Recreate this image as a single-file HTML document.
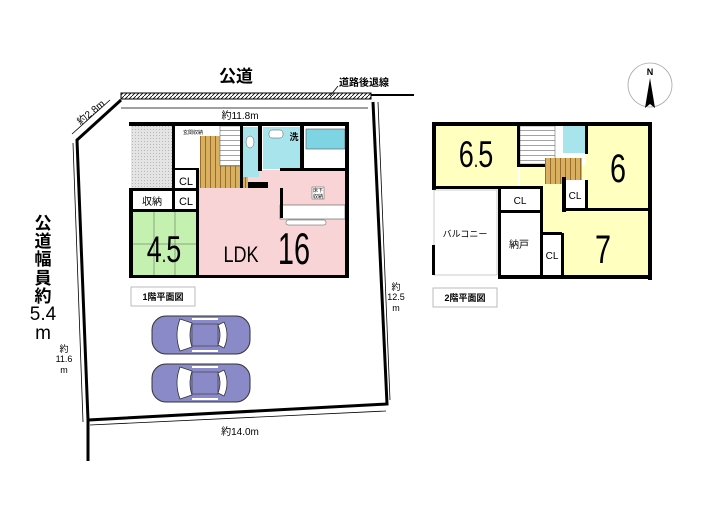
<!DOCTYPE html>
<html><head><meta charset="utf-8"><style>
html,body{margin:0;padding:0;background:#fff;}
svg{display:block;}
text{font-family:"Liberation Sans","Noto Sans CJK JP",sans-serif;}
</style></head><body>
<svg width="705" height="525" viewBox="0 0 705 525" xmlns="http://www.w3.org/2000/svg">
<defs>
<pattern id="hatch" width="4" height="4" patternUnits="userSpaceOnUse"><path d="M0,4 L4,0" stroke="#000" stroke-width="0.8"/></pattern>
<pattern id="dots" width="3" height="3" patternUnits="userSpaceOnUse"><rect width="3" height="3" fill="#e4e4e4"/><rect width="1" height="1" fill="#b8b8b8"/></pattern>
<pattern id="wood" width="5" height="10" patternUnits="userSpaceOnUse"><rect width="5" height="10" fill="#d8b060"/><line x1="0.5" y1="0" x2="0.5" y2="10" stroke="#8a5a20" stroke-width="0.8"/></pattern>
<pattern id="stair" width="10" height="5" patternUnits="userSpaceOnUse"><rect width="10" height="5" fill="#fff"/><line x1="0" y1="0.5" x2="10" y2="0.5" stroke="#666" stroke-width="0.6"/></pattern>
<g id="car">
<rect x="0" y="0" width="98" height="38" rx="14" fill="#8a8ac8" stroke="#333" stroke-width="1"/>
<path d="M28,3 Q22,19 28,35 L40,31 Q36,19 40,7 Z" fill="#fff" stroke="#333" stroke-width="0.8"/>
<path d="M72,6 Q78,19 72,32 L66,29 Q70,19 66,9 Z" fill="#fff" stroke="#333" stroke-width="0.8"/>
<rect x="40" y="8" width="26" height="22" fill="#8a8ac8" stroke="#333" stroke-width="0.6"/>
<line x1="40" y1="3" x2="66" y2="3" stroke="#fff" stroke-width="2"/>
<line x1="40" y1="35" x2="66" y2="35" stroke="#fff" stroke-width="2"/>
</g>
</defs>

<text x="236" y="82" font-size="17" font-weight="bold" text-anchor="middle">公道</text>
<text x="364" y="86" font-size="10" font-weight="bold" text-anchor="middle">道路後退線</text>
<line x1="330" y1="96" x2="338" y2="86" stroke="#000" stroke-width="0.8"/>
<rect x="121" y="93" width="250" height="6" fill="url(#hatch)" stroke="#000" stroke-width="1"/>
<line x1="371" y1="95" x2="414" y2="95" stroke="#000" stroke-width="2"/>
<polyline points="121,100 77,140 88,420 387,404 373,102" fill="none" stroke="#000" stroke-width="3"/>
<line x1="88" y1="420" x2="88" y2="461" stroke="#000" stroke-width="3"/>
<line x1="121" y1="108" x2="368" y2="108" stroke="#000" stroke-width="0.8"/>
<text x="240" y="119" font-size="10" text-anchor="middle">約11.8m</text>
<line x1="72" y1="134" x2="110" y2="100" stroke="#000" stroke-width="0.8"/>
<text x="93" y="115" font-size="10" text-anchor="middle" transform="rotate(-40 93 115)">約2.8m</text>
<line x1="73" y1="143" x2="83" y2="422" stroke="#000" stroke-width="0.8"/>
<text x="64" y="352" font-size="9" text-anchor="middle">約</text>
<text x="64" y="362" font-size="9" text-anchor="middle">11.6</text>
<text x="64" y="373" font-size="9" text-anchor="middle">m</text>
<line x1="378" y1="102" x2="390" y2="400" stroke="#000" stroke-width="0.8"/>
<text x="396" y="290" font-size="9" text-anchor="middle">約</text>
<text x="396" y="300" font-size="9" text-anchor="middle">12.5</text>
<text x="396" y="311" font-size="9" text-anchor="middle">m</text>
<line x1="90" y1="425" x2="386" y2="411" stroke="#000" stroke-width="0.8"/>
<text x="240" y="435" font-size="10" text-anchor="middle">約14.0m</text>
<g font-size="17" text-anchor="middle" font-weight="bold">
<text x="43" y="229">公</text><text x="43" y="247">道</text><text x="43" y="265">幅</text><text x="43" y="284">員</text><text x="43" y="302">約</text>
</g>
<text x="43" y="320" font-size="19" text-anchor="middle">5.4</text>
<text x="43" y="339" font-size="19" text-anchor="middle">m</text>

<circle cx="650" cy="85" r="22" fill="#fff" stroke="#aaa" stroke-width="0.8"/>
<text x="650" y="75" font-size="9" font-weight="bold" text-anchor="middle" font-family="Liberation Serif">N</text>
<path d="M650,78 L645,108 L650,104 L655,108 Z" fill="#000"/>

<!-- 1F -->
<rect x="129" y="122" width="220" height="156" fill="#fff"/>
<rect x="131" y="126" width="42" height="62" fill="url(#dots)"/>
<rect x="199" y="170" width="148" height="106" fill="#f8d4d6"/>
<rect x="133" y="212" width="63" height="64" fill="#c4f0b0"/>
<g stroke="#555" stroke-width="0.5"><line x1="154" y1="212" x2="154" y2="276"/><line x1="175" y1="212" x2="175" y2="276"/><line x1="133" y1="244" x2="196" y2="244"/></g>
<rect x="200" y="136" width="48" height="52" fill="url(#wood)"/>
<rect x="220" y="126" width="22" height="40" fill="url(#stair)" stroke="#555" stroke-width="0.5"/>
<rect x="243" y="127" width="16" height="50" fill="#a8e4ec"/>
<rect x="263" y="127" width="38" height="42" fill="#a8e4ec"/>
<rect x="306" y="129" width="39" height="20" fill="#7fd4e4" stroke="#555" stroke-width="0.6"/>
<ellipse cx="250" cy="142" rx="4" ry="6" fill="#fff" stroke="#555" stroke-width="0.5"/>
<rect x="269" y="130" width="14" height="8" rx="3" fill="#fff" stroke="#555" stroke-width="0.5"/>
<text x="294" y="140" font-size="9" text-anchor="middle" font-weight="bold">洗</text>
<text x="193" y="134" font-size="5" text-anchor="middle">玄関収納</text>
<rect x="280" y="205" width="65" height="14" fill="#fff" stroke="#555" stroke-width="0.6"/>
<rect x="286" y="220" width="40" height="5" rx="2" fill="#fff" stroke="#555" stroke-width="0.5"/>
<rect x="312" y="187" width="12" height="12" fill="#fff" stroke="#555" stroke-width="0.5"/>
<text x="318" y="192" font-size="5" text-anchor="middle">床下</text><text x="318" y="198" font-size="5" text-anchor="middle">収納</text>
<g fill="#000">
<rect x="129" y="122" width="220" height="4"/>
<rect x="129" y="188" width="4" height="90"/>
<rect x="129" y="188" width="70" height="3"/>
<rect x="345" y="122" width="4" height="156"/>
<rect x="129" y="275" width="220" height="3"/>
<rect x="172" y="126" width="3" height="83"/>
<rect x="196" y="170" width="3" height="106"/>
<rect x="133" y="209" width="66" height="3"/>
<rect x="175" y="168" width="24" height="2"/>
<rect x="258" y="126" width="4" height="45"/>
<rect x="240" y="126" width="3" height="62"/>
<rect x="300" y="126" width="4" height="42"/>
<rect x="280" y="168" width="69" height="3"/>
<rect x="280" y="188" width="3" height="30"/>
<rect x="248" y="182" width="20" height="6"/>
</g>
<rect x="175" y="172" width="21" height="15" fill="#fff"/>
<rect x="175" y="192" width="21" height="16" fill="#fff"/>
<text x="186" y="185" font-size="11" text-anchor="middle">CL</text>
<text x="186" y="205" font-size="11" text-anchor="middle">CL</text>
<text x="152" y="205" font-size="10" text-anchor="middle">収納</text>
<text transform="translate(164,262) scale(0.9,1.25)" font-size="30" text-anchor="middle">4<tspan font-size="18">.</tspan>5</text>
<text transform="translate(241,262) scale(0.95,1.15)" font-size="19" text-anchor="middle">LDK</text>
<text transform="translate(294,264) scale(0.85,1.3)" font-size="34" text-anchor="middle">16</text>
<rect x="131" y="287" width="64" height="19" fill="#fff" stroke="#bbb"/>
<text x="163" y="300" font-size="9" font-weight="bold" text-anchor="middle">1階平面図</text>

<use href="#car" x="152" y="316"/>
<use href="#car" x="152" y="364"/>

<!-- 2F -->
<rect x="434" y="124" width="84" height="64" fill="#ffffc0"/>
<rect x="586" y="124" width="64" height="85" fill="#ffffc0"/>
<rect x="520" y="165" width="70" height="50" fill="#ffffc0"/>
<rect x="543" y="212" width="108" height="64" fill="#ffffc0"/>
<rect x="520" y="126" width="35" height="38" fill="url(#stair)" stroke="#555" stroke-width="0.5"/>
<rect x="563" y="126" width="22" height="27" fill="#a8e4ec"/>
<rect x="545" y="158" width="37" height="26" fill="url(#wood)"/>
<g fill="#000">
<rect x="432" y="122" width="220" height="4"/>
<rect x="432" y="122" width="4" height="68"/>
<rect x="432" y="186" width="66" height="3"/>
<rect x="648" y="122" width="4" height="158"/>
<rect x="498" y="188" width="3" height="90"/>
<rect x="498" y="275" width="154" height="4"/>
<rect x="517" y="126" width="3" height="40"/>
<rect x="517" y="164" width="28" height="3"/>
<rect x="585" y="126" width="3" height="28"/>
<rect x="562" y="177" width="4" height="35"/>
<rect x="562" y="208" width="90" height="3"/>
<rect x="498" y="210" width="44" height="3"/>
<rect x="540" y="186" width="3" height="92"/>
<rect x="498" y="186" width="44" height="3"/>
<rect x="542" y="232" width="20" height="3"/>
</g>
<rect x="434" y="190" width="63" height="85" fill="#fff" stroke="#999" stroke-width="0.5"/>
<rect x="432" y="245" width="3" height="30" fill="#000"/>
<rect x="501" y="190" width="39" height="20" fill="#fff"/>
<rect x="501" y="213" width="39" height="62" fill="#fff"/>
<rect x="543" y="235" width="18" height="40" fill="#fff"/>
<rect x="566" y="180" width="19" height="28" fill="#fff"/>
<g fill="#000"><rect x="585" y="180" width="3" height="30"/><rect x="540" y="233" width="3" height="45"/><rect x="561" y="233" width="3" height="45"/></g>
<text transform="translate(476,167) scale(0.9,1.25)" font-size="30" text-anchor="middle">6<tspan font-size="18">.</tspan>5</text>
<text transform="translate(618,182) scale(0.9,1.25)" font-size="32" text-anchor="middle">6</text>
<text transform="translate(603,263) scale(0.9,1.25)" font-size="32" text-anchor="middle">7</text>
<text x="520" y="204" font-size="10" text-anchor="middle">CL</text>
<text x="575" y="199" font-size="10" text-anchor="middle">CL</text>
<text x="552" y="259" font-size="10" text-anchor="middle">CL</text>
<text x="519" y="248" font-size="10" text-anchor="middle">納戸</text>
<text x="465" y="237" font-size="9" text-anchor="middle">バルコニー</text>
<rect x="433" y="288" width="64" height="19" fill="#fff" stroke="#bbb"/>
<text x="465" y="301" font-size="9" font-weight="bold" text-anchor="middle">2階平面図</text>
</svg>
</body></html>
